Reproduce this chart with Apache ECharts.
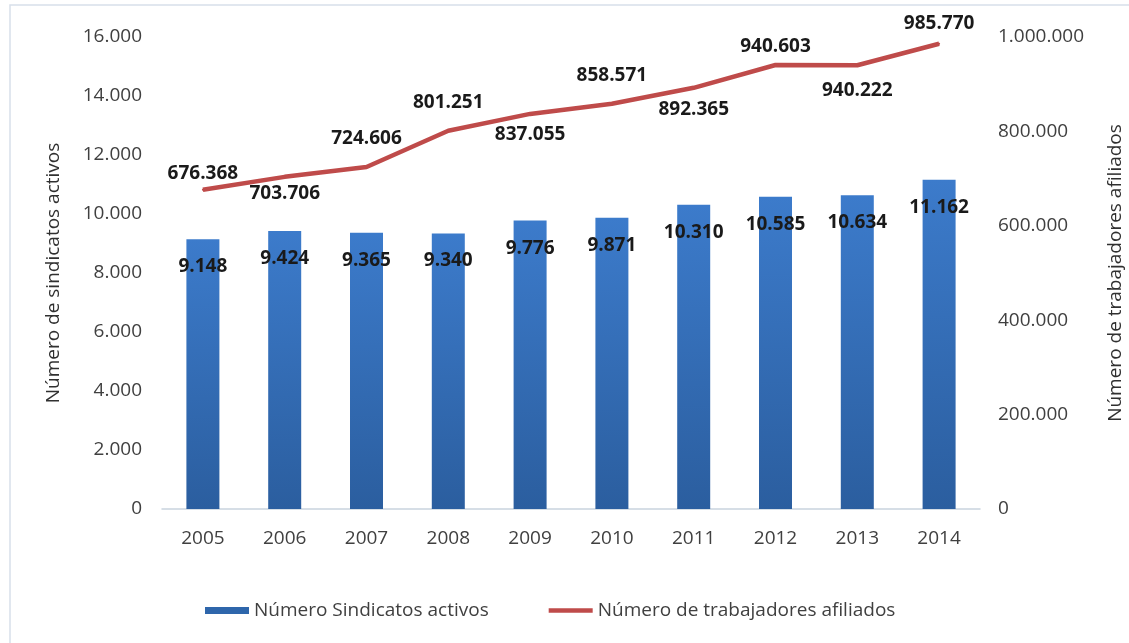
<!DOCTYPE html>
<html>
<head>
<meta charset="utf-8">
<script src="https://cdn.jsdelivr.net/npm/echarts@6/dist/echarts.min.js"></script>
<style>
  html, body { margin: 0; padding: 0; background: #fff; }
  #chart { width: 1129px; height: 643px; }
</style>
</head>
<body>
<div id="chart"></div>
<script>
// data
const years = ['2005', '2006', '2007', '2008', '2009', '2010', '2011', '2012', '2013', '2014'];
const sindicatos = [9148, 9424, 9365, 9340, 9776, 9871, 10310, 10585, 10634, 11162];
const afiliados = [676368, 703706, 724606, 801251, 837055, 858571, 892365, 940603, 940222, 985770];
const sindicatosName = 'Número Sindicatos activos';
const afiliadosName = 'Número de trabajadores afiliados';

// where each line label sits (above / below the point)
const lineLabelPos = ['top', 'bottom', 'top', 'top', 'bottom', 'top', 'bottom', 'top', 'bottom', 'top'];
const lineLabelGap = [6, 6, 18, 18, 10, 18, 11, 8, 15, 10];

const fmt = v => String(Math.round(v)).replace(/\B(?=(\d{3})+(?!\d))/g, '.');

const font = '"Open Sans", sans-serif';
const tickText = { color: '#404040', fontSize: 19, fontFamily: font };

const chart = echarts.init(document.getElementById('chart'));

chart.setOption({
  animation: false,
  backgroundColor: '#fff',
  graphic: [{
    type: 'rect',
    shape: { x: 10, y: 5, width: 1300, height: 800 },
    style: { fill: 'none', stroke: '#d8e0ea', lineWidth: 1.5 },
    silent: true
  }],
  grid: { left: 162, right: 149, top: 37, bottom: 134, outerBoundsMode: 'none', containLabel: false },
  legend: {
    bottom: 18,
    left: 200,
    itemGap: 60,
    itemWidth: 44,
    itemHeight: 7,
    textStyle: { color: '#404040', fontSize: 19, fontFamily: font },
    data: [
      { name: sindicatosName, icon: 'rect', itemStyle: { color: '#2e66ab' } },
      { name: afiliadosName, icon: 'path://M0,0L44,0L44,4.5L0,4.5Z', itemStyle: { color: '#bf4b4a', opacity: 1 } }
    ]
  },
  xAxis: {
    type: 'category',
    data: years,
    axisLine: { lineStyle: { color: '#c9d3de', width: 1.5 } },
    axisTick: { show: false },
    axisLabel: Object.assign({ margin: 20 }, tickText)
  },
  yAxis: [
    {
      type: 'value',
      min: 0,
      max: 16000,
      interval: 2000,
      name: 'Número de sindicatos activos',
      nameLocation: 'middle',
      nameRotate: 90,
      nameGap: 99,
      nameTextStyle: { color: '#303030', fontSize: 19, fontFamily: font },
      splitLine: { show: false },
      axisLine: { show: false },
      axisTick: { show: false },
      axisLabel: Object.assign({ margin: 20, formatter: fmt }, tickText)
    },
    {
      type: 'value',
      min: 0,
      max: 1000000,
      interval: 200000,
      name: 'Número de trabajadores afiliados',
      nameLocation: 'middle',
      nameRotate: 90,
      nameGap: 126,
      nameTextStyle: { color: '#303030', fontSize: 19, fontFamily: font },
      splitLine: { show: false },
      axisLine: { show: false },
      axisTick: { show: false },
      axisLabel: Object.assign({ margin: 18, formatter: fmt }, tickText)
    }
  ],
  series: [
    {
      name: sindicatosName,
      type: 'bar',
      yAxisIndex: 0,
      barWidth: 33,
      data: sindicatos,
      itemStyle: {
        color: new echarts.graphic.LinearGradient(0, 0, 0, 1, [
          { offset: 0, color: '#3c7bcb' },
          { offset: 1, color: '#2b5e9f' }
        ])
      },
      label: {
        show: true,
        position: 'insideTop',
        distance: 18,
        formatter: p => fmt(p.value),
        color: '#1a1a1a',
        fontSize: 19,
        fontWeight: 'bold',
        fontFamily: font
      }
    },
    {
      name: afiliadosName,
      type: 'line',
      yAxisIndex: 1,
      symbol: 'circle',
      symbolSize: 2,
      showSymbol: true,
      showAllSymbol: true,
      data: afiliados.map((v, i) => ({
        value: v,
        label: { show: true, position: lineLabelPos[i], distance: lineLabelGap[i] }
      })),
      lineStyle: { color: '#bf4b4a', width: 4.5 },
      itemStyle: { color: '#bf4b4a' },
      label: {
        show: true,
        formatter: p => fmt(p.value),
        color: '#1a1a1a',
        fontSize: 19,
        fontWeight: 'bold',
        fontFamily: font
      }
    }
  ]
});
</script>
</body>
</html>
